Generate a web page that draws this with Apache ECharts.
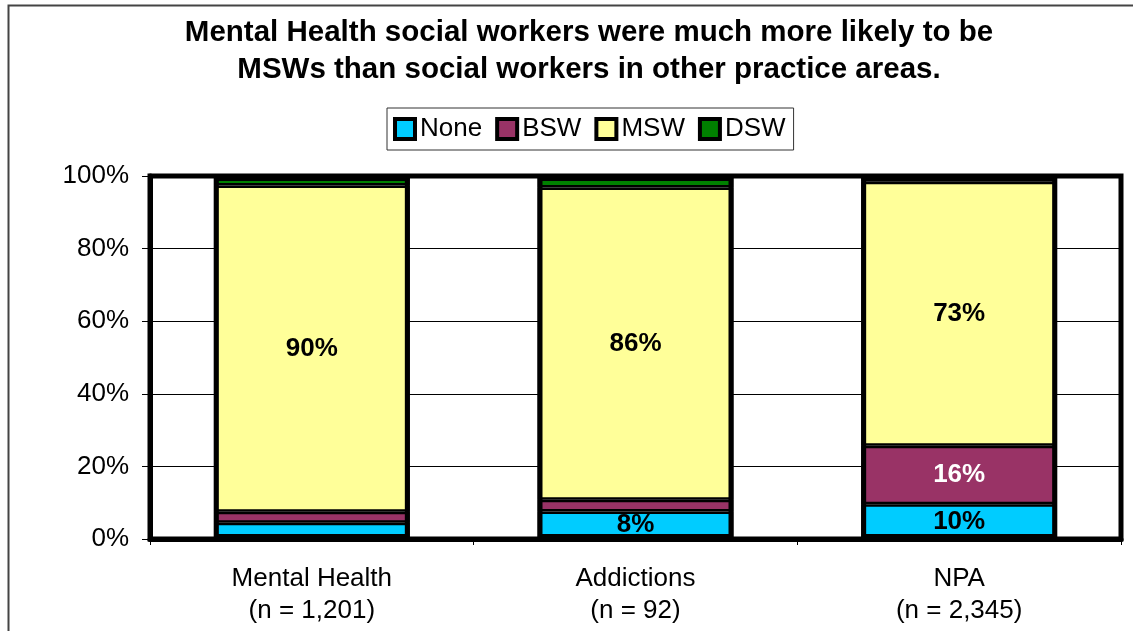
<!DOCTYPE html>
<html>
<head>
<meta charset="utf-8">
<script src="https://cdn.jsdelivr.net/npm/echarts@6/dist/echarts.min.js"></script>
<style>html,body{margin:0;padding:0;background:#fff;}#c{width:1133px;height:631px;}</style>
</head>
<body>
<div id="c"></div>
<script>
const categories = ['Mental Health\n(n = 1,201)', 'Addictions\n(n = 92)', 'NPA\n(n = 2,345)'];
const seriesNames = ['None', 'BSW', 'MSW', 'DSW'];
const noneVals = [4.5, 7.6, 9.6];
const bswVals = [3.0, 3.2, 16.1];
const mswVals = [89.9, 86.0, 72.7];
const dswVals = [2.6, 3.2, 1.6];
const yTicks = [0, 20, 40, 60, 80, 100];

const colors = ['#00CCFF', '#993366', '#FFFF99', '#008000'];
const labelColors = ['#000', '#fff', '#000', '#000'];
const allVals = [noneVals, bswVals, mswVals, dswVals];
const totals = categories.map((c, j) => allVals.reduce((s, a) => s + a[j], 0));
const FONT = 'Liberation Sans, Arial, sans-serif';
const BAR_W = 196;

const chart = echarts.init(document.getElementById('c'), null, {renderer: 'canvas'});
const series = seriesNames.map((name, i) => ({
  name: name,
  type: 'bar',
  stack: 'total',
  barWidth: BAR_W,
  data: allVals[i],
  itemStyle: {color: colors[i], borderColor: '#000', borderWidth: 2.5},
  label: {
    show: true,
    position: 'inside',
    fontFamily: FONT,
    fontSize: 26,
    fontWeight: 'bold',
    color: labelColors[i],
    textBorderWidth: 0,
    formatter: p => (p.value >= 5 ? Math.round(p.value) + '%' : '')
  }
}));
series.push({
  name: 'outline',
  type: 'bar',
  barWidth: BAR_W,
  barGap: '-100%',
  data: totals,
  silent: true,
  z: 5,
  itemStyle: {color: 'rgba(0,0,0,0)', borderColor: '#000', borderWidth: 5},
  label: {show: false},
  tooltip: {show: false}
});

chart.setOption({
  animation: false,
  backgroundColor: '#fff',
  textStyle: {fontFamily: FONT, color: '#000'},
  title: {
    text: 'Mental Health social workers were much more likely to be\nMSWs than social workers in other practice areas.',
    left: 589,
    textAlign: 'center',
    top: 14,
    padding: 0,
    textStyle: {fontFamily: FONT, fontSize: 29.5, fontWeight: 'bold', color: '#000', lineHeight: 37}
  },
  legend: {
    data: seriesNames,
    left: 387,
    top: 108,
    padding: [8, 8, 8, 6],
    itemGap: 13,
    itemWidth: 20,
    itemHeight: 20,
    borderColor: '#333',
    borderWidth: 1,
    icon: 'rect',
    itemStyle: {borderColor: '#000', borderWidth: 4},
    textStyle: {fontFamily: FONT, fontSize: 26, color: '#000'}
  },
  grid: {
    left: 150, right: 12, top: 176, bottom: 92,
    show: true, borderColor: '#000', borderWidth: 5, backgroundColor: 'transparent'
  },
  xAxis: {
    type: 'category',
    data: categories,
    axisLine: {show: true, lineStyle: {color: '#000', width: 5}},
    axisTick: {show: true, alignWithLabel: false, length: 6, lineStyle: {color: '#000', width: 1}},
    axisLabel: {fontFamily: FONT, fontSize: 26, color: '#000', lineHeight: 32, margin: 24}
  },
  yAxis: {
    type: 'value',
    min: 0, max: 100, interval: 20,
    axisLine: {show: true, lineStyle: {color: '#000', width: 5}},
    axisTick: {show: true, length: 8, lineStyle: {color: '#000', width: 1}},
    axisLabel: {fontFamily: FONT, fontSize: 26, color: '#000', margin: 21, formatter: v => v + '%'},
    splitLine: {show: true, lineStyle: {color: '#000', width: 1}}
  },
  series: series,
  graphic: [{
    type: 'rect',
    shape: {x: 8.5, y: 5.5, width: 1300, height: 800},
    style: {fill: 'none', stroke: '#444', lineWidth: 2},
    silent: true,
    z: -10
  }]
});
</script>
</body>
</html>
